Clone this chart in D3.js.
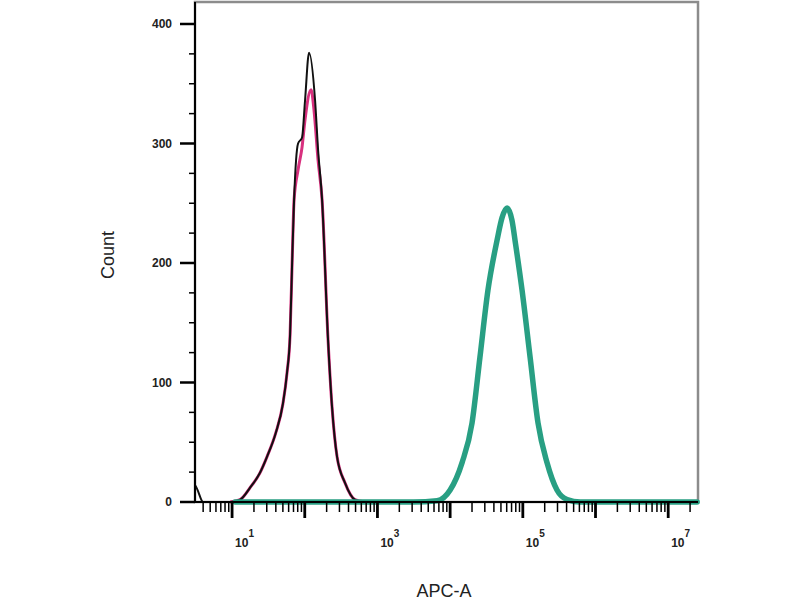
<!DOCTYPE html>
<html>
<head>
<meta charset="utf-8">
<script src="https://cdn.jsdelivr.net/npm/d3@7/dist/d3.min.js"></script>
<style>
  html, body { margin: 0; padding: 0; background: #ffffff; }
  svg { display: block; }
</style>
</head>
<body>
<svg id="chart" width="800" height="600"></svg>
<script>
// ---- data (APC-A intensity vs event count) ----
const blackX = [3.1, 3.3, 4.0, 9.4, 12.9, 17.7, 24, 30.3, 40, 50, 57, 62.8, 67, 71.3, 75.9, 80.9, 91.8, 100.9, 114.6, 138.7, 152.4, 173, 209, 237, 278, 358, 490, 676, 25000000];
const blackY = [14, 11, 0, 0, 2, 12, 24, 38, 58, 82, 108, 140, 200, 253, 286, 300, 305, 336, 376, 336, 295, 253, 136, 80, 38, 16, 2, 0, 0];

const pinkX = [9.4, 12.9, 17.7, 24, 30.3, 40, 50, 57, 62.8, 67, 71.3, 80.9, 91.8, 100.9, 122, 134, 152.4, 173, 209, 237, 278, 358, 490, 676];
const pinkY = [0, 2, 12, 24, 38, 58, 82, 108, 140, 200, 253, 278, 297, 320, 345, 328, 286, 253, 136, 80, 38, 16, 2, 0];

const tealX = [11, 3160, 6600, 10000, 14600, 20000, 25700, 33100, 44200, 51800, 60700, 70800, 79400, 97700, 126000, 162000, 215000, 295000, 407000, 617000, 25000000];
const tealY = [0, 0, 1, 10, 33, 66, 121, 177, 219, 238, 246, 236, 216, 177, 121, 66, 33, 10, 2, 0, 0];

const yMajorTicks = [0, 100, 200, 300, 400];
const yLabels = ["0", "100", "200", "300", "400"];
const xMajorTicks = [10, 100, 1000, 10000, 100000, 1000000, 10000000];
const xLabelTicks = [10, 1000, 100000, 10000000];
const xLabelExps = ["1", "3", "5", "7"];

const xTitle = "APC-A";
const yTitle = "Count";

(function () {
// ---- layout ----
const pLeft = 195, pRight = 698, pTop = 2, pBottom = 502;
const svg = d3.select("#chart");

const x = d3.scaleLog().domain([Math.pow(10, 0.49), Math.pow(10, 7.41)]).range([pLeft, pRight]);
const y = d3.scaleLinear().domain([0, 418.4]).range([pBottom, pTop]);

// frame (gray top/right border)
svg.append("rect")
  .attr("x", pLeft).attr("y", pTop)
  .attr("width", pRight - pLeft).attr("height", pBottom - pTop)
  .attr("fill", "#ffffff")
  .attr("stroke", "#8c8c8c").attr("stroke-width", 2.5);

// ---- curves ----
const toPts = (xs, ys) => xs.map((v, i) => [v, ys[i]]);
const line = d3.line().x(d => x(d[0])).y(d => y(d[1])).curve(d3.curveMonotoneX);

const plot = svg.append("g");
plot.append("path").datum(toPts(pinkX, pinkY))
  .attr("d", line).attr("fill", "none")
  .attr("stroke", "#d8307e").attr("stroke-width", 3).attr("stroke-linejoin", "round");
plot.append("path").datum(toPts(blackX, blackY))
  .attr("d", line).attr("fill", "none")
  .attr("stroke", "#111111").attr("stroke-width", 2).attr("stroke-linejoin", "round");
plot.append("path").datum(toPts(tealX, tealY))
  .attr("d", line).attr("fill", "none")
  .attr("stroke", "#289f83").attr("stroke-width", 5.5).attr("stroke-linejoin", "round").attr("stroke-linecap", "round");

// ---- y axis ----
const ya = svg.append("g");
ya.append("line").attr("x1", pLeft).attr("x2", pLeft).attr("y1", pTop).attr("y2", pBottom + 1)
  .attr("stroke", "#000").attr("stroke-width", 2);
const yMinor = d3.range(0, 418, 25).filter(v => v % 100 !== 0);
ya.selectAll(".ymin").data(yMinor).join("line")
  .attr("x1", pLeft - 6).attr("x2", pLeft).attr("y1", d => y(d)).attr("y2", d => y(d))
  .attr("stroke", "#000").attr("stroke-width", 1.5);
ya.selectAll(".ymaj").data(yMajorTicks).join("line")
  .attr("x1", pLeft - 15).attr("x2", pLeft).attr("y1", d => y(d)).attr("y2", d => y(d))
  .attr("stroke", "#000").attr("stroke-width", 2.5);
ya.selectAll(".ylab").data(yMajorTicks).join("text")
  .attr("x", 172).attr("y", d => y(d)).attr("dy", "0.36em")
  .attr("text-anchor", "end")
  .attr("font-family", "Liberation Sans, Arial, sans-serif")
  .attr("font-weight", "bold").attr("font-size", 12).attr("fill", "#222")
  .text((d, i) => yLabels[i]);

// ---- x axis ----
const xa = svg.append("g");
xa.append("line").attr("x1", 180).attr("x2", pRight).attr("y1", pBottom).attr("y2", pBottom)
  .attr("stroke", "#000").attr("stroke-width", 2);
const xMinor = [];
[1, 10, 100, 1000, 10000, 100000, 1000000, 10000000].forEach(b => {
  for (let k = 2; k <= 9; k++) {
    const v = b * k;
    if (v >= x.domain()[0] && v <= x.domain()[1]) xMinor.push(v);
  }
});
xa.selectAll(".xmin").data(xMinor).join("line")
  .attr("x1", d => x(d)).attr("x2", d => x(d)).attr("y1", pBottom).attr("y2", pBottom + 10)
  .attr("stroke", "#000").attr("stroke-width", 1.5);
xa.selectAll(".xmaj").data(xMajorTicks).join("line")
  .attr("x1", d => x(d)).attr("x2", d => x(d)).attr("y1", pBottom).attr("y2", pBottom + 16)
  .attr("stroke", "#000").attr("stroke-width", 2.8);
const xl = xa.selectAll(".xlab").data(xLabelTicks).join("text")
  .attr("x", d => x(d) + 3).attr("y", 547)
  .attr("font-family", "Liberation Sans, Arial, sans-serif")
  .attr("font-weight", "bold").attr("font-size", 12).attr("fill", "#222");
xl.append("tspan").text("10");
xl.append("tspan").attr("dy", -10).attr("font-size", 10).text((d, i) => xLabelExps[i]);

// ---- titles ----
svg.append("text")
  .attr("transform", "translate(114,255) rotate(-90)")
  .attr("text-anchor", "middle")
  .attr("font-family", "Liberation Sans, Arial, sans-serif")
  .attr("font-size", 18).attr("fill", "#222")
  .text(yTitle);
svg.append("text")
  .attr("x", 444).attr("y", 597)
  .attr("text-anchor", "middle")
  .attr("font-family", "Liberation Sans, Arial, sans-serif")
  .attr("font-size", 18).attr("fill", "#222")
  .text(xTitle);
})();
</script>
</body>
</html>
